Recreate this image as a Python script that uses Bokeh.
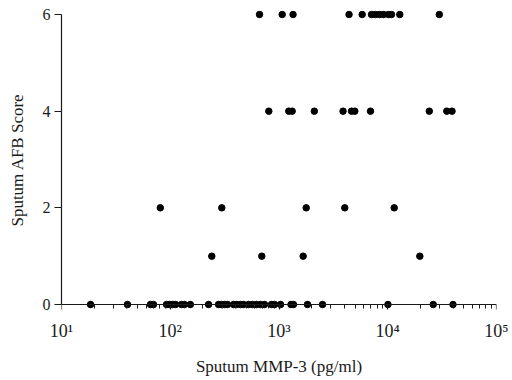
from bokeh.plotting import figure
from bokeh.models import Range1d, FixedTicker, ColumnDataSource, LogAxis
from bokeh.embed import file_html
from bokeh.resources import INLINE

# Sputum MMP-3 (pg/ml) values grouped by AFB score
mmp3_score6 = [662, 1070, 1346, 4405, 5820, 7090, 7710, 8400, 9140, 10160, 10820, 12900, 29800]
mmp3_score4 = [806, 1230, 1321, 2112, 3880, 4645, 4980, 6940, 24100, 34900, 39000]
mmp3_score2 = [81, 298, 1778, 4027, 11460]
mmp3_score1 = [241, 695, 1668, 19720]
mmp3_score0 = [18.5, 40.4, 65.8, 70.1, 92.5, 98.5, 105, 112, 127, 135, 153, 225, 278, 296,
               315, 336, 382, 407, 443, 472, 525, 571, 621, 676, 736, 853, 909, 1033, 1289,
               1358, 1828, 2512, 10040, 26200, 39800]

x_tick_values = [10, 100, 1000, 10000, 100000]
x_tick_labels = ["10\u00b9", "10\u00b2", "10\u00b3", "10\u2074", "10\u2075"]
y_tick_values = [0, 2, 4, 6]

xs, ys = [], []
for score, vals in [(6, mmp3_score6), (4, mmp3_score4), (2, mmp3_score2),
                    (1, mmp3_score1), (0, mmp3_score0)]:
    xs += vals
    ys += [score] * len(vals)
src = ColumnDataSource(dict(x=xs, y=ys))

FONT = "Liberation Serif"
INK = "#1a1a1a"

p = figure(x_axis_type="log", x_range=Range1d(10, 100000), y_range=Range1d(-0.1034, 6.0828),
           width=512, height=380, output_backend="svg", toolbar_location=None,
           min_border_left=61, min_border_right=16, min_border_top=10, min_border_bottom=71)
p.background_fill_color = "white"
p.border_fill_color = "white"
p.outline_line_color = None
p.xgrid.visible = False
p.ygrid.visible = False

p.scatter("x", "y", source=src, size=6.5, color="black", line_color="black")

minor = [m * 10 ** k for k in range(1, 5) for m in range(2, 10)]

# labels-only x axis at the bottom of the frame
xa = p.xaxis[0]
xa.ticker = FixedTicker(ticks=x_tick_values)
xa.major_label_overrides = {v: l for v, l in zip(x_tick_values, x_tick_labels)}
xa.axis_line_color = None
xa.major_tick_line_color = None
xa.minor_tick_line_color = None
xa.major_tick_out = 0
xa.major_tick_in = 0
xa.minor_tick_out = 0
xa.minor_tick_in = 0
xa.major_label_text_font = FONT
xa.major_label_text_color = INK
xa.major_label_text_font_size = "18px"
xa.major_label_standoff = 11
xa.axis_label = "Sputum MMP-3 (pg/ml)"
xa.axis_label_text_font = FONT
xa.axis_label_text_color = INK
xa.axis_label_text_font_style = "normal"
xa.axis_label_text_font_size = "17px"
xa.axis_label_standoff = 13

# line + ticks x axis at y = 0
xl = LogAxis(ticker=FixedTicker(ticks=x_tick_values, minor_ticks=minor), fixed_location=0)
xl.axis_line_color = INK
xl.axis_line_width = 1.2
xl.major_tick_line_color = INK
xl.major_tick_line_width = 1.2
xl.minor_tick_line_color = INK
xl.major_tick_in = 0
xl.major_tick_out = 6
xl.minor_tick_in = 0
xl.minor_tick_out = 4
xl.major_label_text_font_size = "0px"
xl.major_label_text_color = None
p.add_layout(xl, "below")

ya = p.yaxis[0]
ya.ticker = FixedTicker(ticks=y_tick_values)
ya.bounds = (0, 6)
ya.minor_tick_line_color = None
ya.axis_line_color = INK
ya.axis_line_width = 1.2
ya.major_tick_line_color = INK
ya.major_tick_line_width = 1.2
ya.major_tick_in = 0
ya.major_tick_out = 7
ya.major_label_text_font = FONT
ya.major_label_text_color = INK
ya.major_label_text_font_size = "16px"
ya.major_label_standoff = 4
ya.axis_label = "Sputum AFB Score"
ya.axis_label_text_font = FONT
ya.axis_label_text_color = INK
ya.axis_label_text_font_style = "normal"
ya.axis_label_text_font_size = "17px"
ya.axis_label_standoff = 13

open("out.html", "w").write(file_html(p, INLINE))
